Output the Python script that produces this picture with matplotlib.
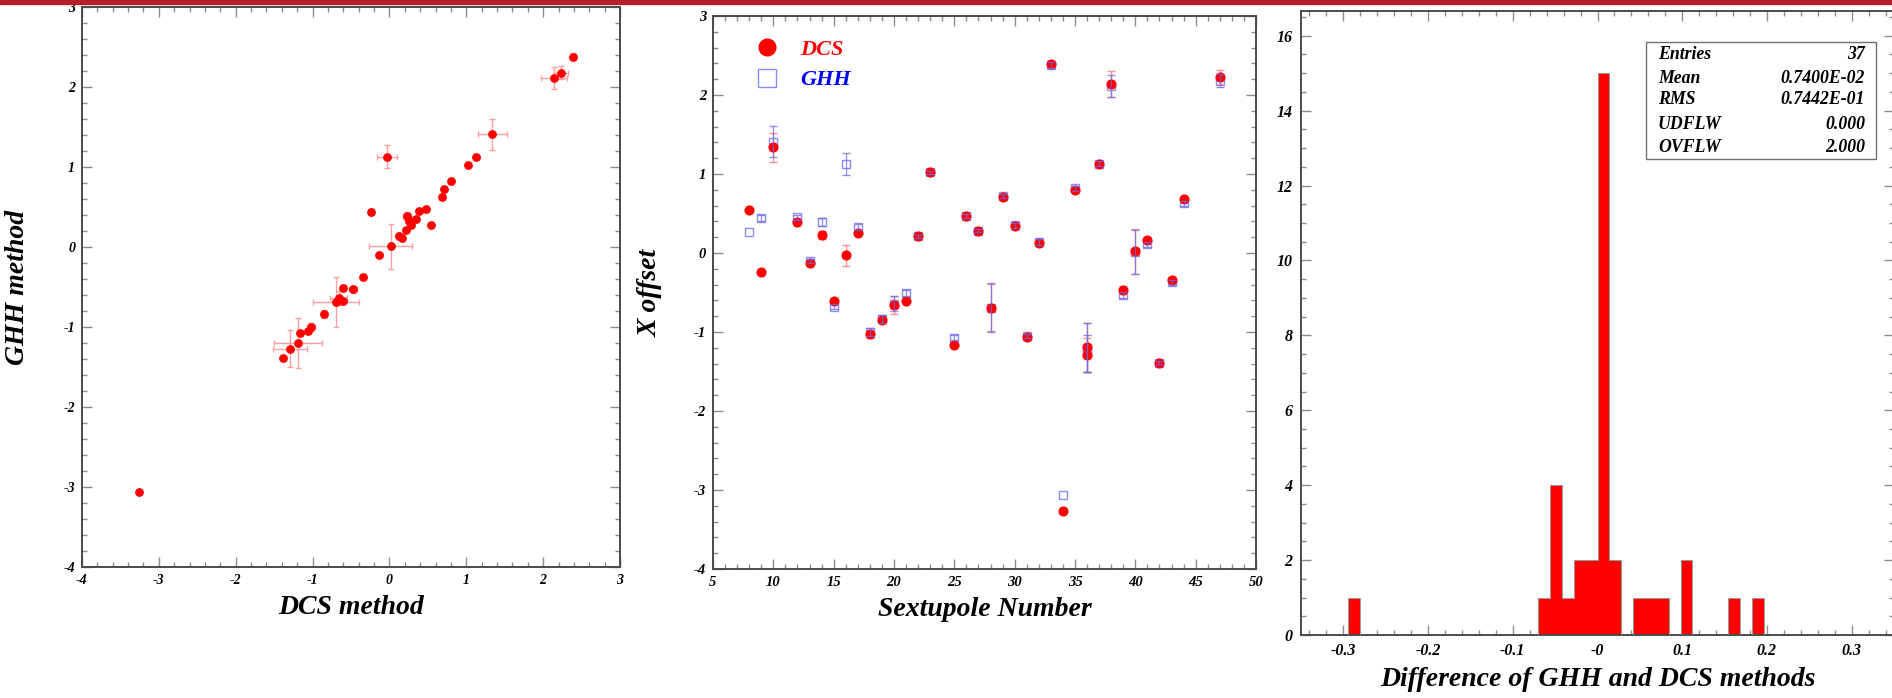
"""
DCS vs GHH sextupole offset comparison (three panels, ROOT style).
"""

import numpy as np
import matplotlib
matplotlib.use('Agg')
import matplotlib.pyplot as plt
from matplotlib.patches import Rectangle
from matplotlib.lines import Line2D
from matplotlib.ticker import MultipleLocator, FixedLocator, FixedFormatter, FormatStrFormatter

# data
sextupole = [8, 9, 10, 12, 13, 14, 15, 16, 17, 18, 19, 20, 21, 22, 23, 25, 26, 27, 28,
             29, 30, 31, 32, 33, 34, 35, 36, 36, 37, 38, 39, 40, 41, 42, 43, 44, 47]
dcs = [0.54, -0.24, 1.34, 0.39, -0.13, 0.23, -0.61, -0.03, 0.25, -1.02, -0.85, -0.66, -0.61,
       0.21, 1.02, -1.17, 0.47, 0.28, -0.69, 0.71, 0.34, -1.06, 0.13, 2.39, -3.26, 0.80,
       -1.19, -1.29, 1.13, 2.14, -0.47, 0.02, 0.16, -1.39, -0.34, 0.68, 2.23]
dcs_err = [0.0, 0.02, 0.185, 0.03, 0.03, 0.05, 0.03, 0.13, 0.03, 0.05, 0.04, 0.11, 0.02,
           0.02, 0.02, 0.02, 0.03, 0.02, 0.30, 0.03, 0.03, 0.03, 0.04, 0.04, 0.0, 0.03,
           0.31, 0.22, 0.03, 0.17, 0.05, 0.28, 0.03, 0.02, 0.03, 0.03, 0.09]
ghh = [0.27, 0.44, 1.41, 0.45, -0.10, 0.39, -0.68, 1.13, 0.33, -1.00, -0.84, -0.64, -0.51,
       0.21, 1.02, -1.07, 0.47, 0.28, -0.69, 0.72, 0.35, -1.05, 0.14, 2.38, -3.06, 0.82,
       -1.20, -1.27, 1.13, 2.11, -0.53, 0.01, 0.11, -1.39, -0.37, 0.63, 2.18]
ghh_err = [0.0, 0.04, 0.195, 0.03, 0.03, 0.05, 0.03, 0.14, 0.04, 0.05, 0.05, 0.09, 0.04,
           0.02, 0.02, 0.03, 0.03, 0.02, 0.31, 0.03, 0.03, 0.03, 0.04, 0.04, 0.0, 0.03,
           0.31, 0.23, 0.03, 0.14, 0.04, 0.28, 0.03, 0.02, 0.03, 0.03, 0.08]

# histogram of GHH - DCS, 50 bins from -0.35 to 0.35
hist_lo, hist_hi, hist_nbins = -0.35, 0.35, 50
hist_counts = [0, 0, 0, 0, 1, 0, 0, 0, 0, 0,
               0, 0, 0, 0, 0, 0, 0, 0, 0, 0,
               1, 4, 1, 2, 2, 15, 2, 0, 1, 1,
               1, 0, 2, 0, 0, 0, 1, 0, 1, 0,
               0, 0, 0, 0, 0, 0, 0, 0, 0, 0]
hist_ticks = [-0.3, -0.2, -0.1, 0.0, 0.1, 0.2, 0.3]
hist_ticklabels = ['-0.3', '-0.2', '-0.1', '-0', '0.1', '0.2', '0.3']

stats_names = ['Entries', 'Mean', 'RMS', 'UDFLW', 'OVFLW']
stats_values = ['37', '0.7400E-02', '0.7442E-01', '0.000', '2.000']

plt.rcParams['font.family'] = ['Liberation Serif', 'DejaVu Serif']
plt.rcParams['font.weight'] = 'bold'
plt.rcParams['font.style'] = 'italic'
plt.rcParams['axes.labelweight'] = 'bold'
plt.rcParams['axes.unicode_minus'] = False

W, H = 1892, 698
PX = 72.0 / 100  # points per pixel at dpi 100


def box(left, right, top, bottom):
    return [left / W, 1 - bottom / H, (right - left) / W, (bottom - top) / H]


def root_style(ax, xmaj, xmin, ymaj, ymin, size, pad):
    ax.xaxis.set_major_locator(MultipleLocator(xmaj))
    ax.xaxis.set_minor_locator(MultipleLocator(xmin))
    ax.yaxis.set_major_locator(MultipleLocator(ymaj))
    ax.yaxis.set_minor_locator(MultipleLocator(ymin))
    ax.tick_params(which='both', direction='in', top=True, right=True,
                   colors='#8c8c8c', labelcolor='black', labelsize=size, pad=pad)
    ax.tick_params(which='major', length=10 * PX, width=1.0)
    ax.tick_params(which='minor', length=5 * PX, width=1.0)
    for s in ax.spines.values():
        s.set_color('#4a4a4a')
        s.set_linewidth(1.4)


fig = plt.figure(figsize=(W / 100, H / 100), dpi=100)
fig.patches.append(Rectangle((0, 1 - 4 / H), 1, 4 / H, transform=fig.transFigure,
                             color='#b3202c', zorder=10))

# ---- panel 1: GHH vs DCS
ax1 = fig.add_axes(box(82, 620, 7, 567))
ax1.errorbar(dcs, ghh, xerr=dcs_err, yerr=ghh_err, fmt='none', ecolor='#ffa0a0',
             elinewidth=1.0, capsize=2.5, capthick=1.0, zorder=2)
ax1.plot(dcs, ghh, 'o', color='red', ms=5.3, mec='red', zorder=3)
ax1.set_xlim(-4, 3)
ax1.set_ylim(-4, 3)
root_style(ax1, 1, 0.2, 1, 0.2, 10, 5)
ax1.xaxis.set_major_formatter(FormatStrFormatter('%d'))
ax1.yaxis.set_major_formatter(FormatStrFormatter('%d'))
ax1.set_xlabel('DCS method', fontsize=20, fontweight='bold', va='center')
ax1.set_ylabel('GHH method', fontsize=20, fontweight='bold', va='center')
ax1.xaxis.set_label_coords(0.5, -(607 - 567) / 560)
ax1.yaxis.set_label_coords((18 - 82) / 538, 0.5)

# ---- panel 2: X offset per sextupole
ax2 = fig.add_axes(box(713, 1256, 16, 569))
ghh_ok = np.array(ghh_err) > 0
dcs_ok = np.array(dcs_err) > 0
ax2.plot(sextupole, ghh, 's', mfc='none', mec='#8c8cff', mew=1.0, ms=6, zorder=2)
ax2.errorbar(np.array(sextupole)[dcs_ok], np.array(dcs)[dcs_ok], yerr=np.array(dcs_err)[dcs_ok],
             fmt='none', ecolor='#ff9090', elinewidth=1.0, capsize=3, zorder=2.5)
ax2.plot(sextupole, dcs, 'o', color='red', ms=6.3, zorder=3)
ax2.errorbar(np.array(sextupole)[ghh_ok], np.array(ghh)[ghh_ok], yerr=np.array(ghh_err)[ghh_ok],
             fmt='none', ecolor='#6a6ae6', elinewidth=0.9, capsize=3, alpha=0.75, zorder=4)
ax2.set_xlim(5, 50)
ax2.set_ylim(-4, 3)
root_style(ax2, 5, 1, 1, 0.2, 10.5, 5)
ax2.xaxis.set_major_formatter(FormatStrFormatter('%d'))
ax2.yaxis.set_major_formatter(FormatStrFormatter('%d'))
ax2.set_xlabel('Sextupole Number', fontsize=20, fontweight='bold', va='center')
ax2.set_ylabel('X offset', fontsize=20, fontweight='bold', va='center')
ax2.xaxis.set_label_coords(0.5, -(610 - 569) / 553)
ax2.yaxis.set_label_coords((650 - 713) / 543, 0.5)
handles = [Line2D([], [], marker='o', ls='', color='red', ms=12),
           Line2D([], [], marker='s', ls='', mfc='none', mec='#8c8cff', mew=1.0, ms=12.5)]
ax2.legend(handles, ['DCS', 'GHH'], loc='upper left', bbox_to_anchor=(0.0787, 0.958),
           frameon=False, fontsize=16, labelcolor=['red', 'blue'], handlelength=1.0,
           handletextpad=1.0, labelspacing=0.45, borderpad=0, borderaxespad=0)

# ---- panel 3: histogram of the difference
ax3 = fig.add_axes(box(1301, 1894, 11, 635))
edges = np.linspace(hist_lo, hist_hi, hist_nbins + 1)
ax3.stairs(hist_counts, edges, fill=True, color='red', zorder=2)
ax3.stairs(hist_counts, edges, fill=False, color='#9a9a9a', lw=0.7, zorder=3)
ax3.set_xlim(hist_lo, hist_hi)
ax3.set_ylim(0, 16.66)
root_style(ax3, 0.1, 0.02, 2, 0.5, 11.5, 6)
ax3.xaxis.set_major_locator(FixedLocator(hist_ticks))
ax3.xaxis.set_major_formatter(FixedFormatter(hist_ticklabels))
ax3.yaxis.set_major_formatter(FormatStrFormatter('%d'))
ax3.set_xlabel('Difference of GHH and DCS methods', fontsize=20, fontweight='bold', va='center')
ax3.xaxis.set_label_coords(0.5, -(680 - 635) / 624)

# stats box
ax3.add_patch(Rectangle((0.582, 0.7636), 0.388, 0.186, transform=ax3.transAxes,
                        facecolor='white', edgecolor='#707070', lw=1.0, zorder=5))
row_y = [0.9305, 0.8926, 0.8574, 0.8189, 0.782]
for name, val, yy in zip(stats_names, stats_values, row_y):
    ax3.text(0.602, yy, name, transform=ax3.transAxes, fontsize=12.8, ha='left', va='center', zorder=6)
    ax3.text(0.951, yy, val, transform=ax3.transAxes, fontsize=12.8, ha='right', va='center', zorder=6)

fig.savefig('out.png', dpi=100)
